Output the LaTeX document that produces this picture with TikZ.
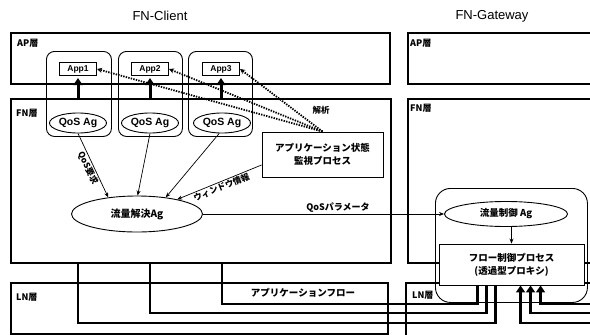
\documentclass[tikz,border=0pt]{standalone}
\usepackage{fontspec}
\setmainfont{Liberation Sans}
\newfontfamily\jp{Noto Sans CJK JP}
\usetikzlibrary{arrows.meta,shapes.geometric,calc}
\newcommand{\fsz}[1]{\fontsize{#1}{#1}\selectfont}
\begin{document}
\begin{tikzpicture}[x=1pt,y=-1pt,
  layerbox/.style={draw, line width=1.6pt, anchor=north west, inner sep=0pt},
  lyr/.style={font=\jp\bfseries\fsz{9}, anchor=west, inner sep=0pt},
  grp/.style={draw, line width=0.9pt, rounded corners=8pt, anchor=north west, inner sep=0pt, minimum height=85pt},
  appbox/.style={draw, line width=1.1pt, fill=white, minimum width=37pt, minimum height=13pt, inner sep=0pt, font=\bfseries\fsz{8.5}},
  qos/.style={draw, ellipse, line width=0.9pt, fill=white, minimum width=57pt, minimum height=20pt, inner sep=0pt, font=\bfseries\fsz{10.5}},
  uparrow/.style={line width=3pt, -{Triangle[width=9pt,length=7pt]}},
  thinline/.style={line width=0.7pt},
  arr/.style={thinline, -{Stealth[length=5pt,width=4pt]}},
  rarr/.style={thinline, {Stealth[length=5pt,width=4pt]}-},
  dotarrow/.style={line width=1.8pt, dash pattern=on 1.4pt off 1.2pt, -{Stealth[length=5pt,width=5pt]}},
  flow/.style={line width=2.8pt},
  flowarrow/.style={line width=2.8pt, -{Triangle[width=9pt,length=7pt]}},
  lab/.style={font=\jp\bfseries\fsz{8.5}, inner sep=1pt},
]
\useasboundingbox (0,0) rectangle (590,335);
\clip (0,0) rectangle (590,335);
\fill[white] (0,0) rectangle (590,335);

% titles
\node[font=\fsz{13}] (tc) at (160,16) {FN-Client};
\node[font=\fsz{13}] (tg) at (492,16) {FN-Gateway};

% layer boxes
\node[layerbox, minimum width=379pt, minimum height=51pt] (apc) at (10,32) {};
\node[layerbox, minimum width=380pt, minimum height=164pt] (fnc) at (10,98) {};
\node[layerbox, minimum width=377pt, minimum height=51pt] (lnc) at (10,282) {};
\node[layerbox, minimum width=200pt, minimum height=51pt] (apg) at (407,32) {};
\node[layerbox, minimum width=200pt, minimum height=164pt] (fng) at (407,98) {};
\node[layerbox, minimum width=200pt, minimum height=70pt] (lng) at (405,282) {};

\node[lyr] (l1) at (17,43) {AP層};
\node[lyr] (l2) at (16,113) {FN層};
\node[lyr] (l3) at (16,297) {LN層};
\node[lyr] (l4) at (410,43) {AP層};
\node[lyr] (l5) at (410,108) {FN層};
\node[lyr] (l6) at (412,295) {LN層};

% application groups
\node[grp, minimum width=65pt] (g1) at (46,51) {};
\node[grp, minimum width=64pt] (g2) at (118,51) {};
\node[grp, minimum width=64pt] (g3) at (188,51) {};

\node[appbox] (a1) at (78,69) {App1};
\node[appbox] (a2) at (150,69) {App2};
\node[appbox] (a3) at (221,69) {App3};

\node[qos] (q1) at (78,123) {QoS Ag};
\node[qos] (q2) at (150,123) {QoS Ag};
\node[qos] (q3) at (222,123) {QoS Ag};

\draw[uparrow, shorten >=2pt] (a1.south |- fnc.north) -- (a1.south);
\draw[uparrow, shorten >=2pt] (a2.south |- fnc.north) -- (a2.south);
\draw[uparrow, shorten >=2pt] (a3.south |- fnc.north) -- (a3.south);

% aggregate agent
\node[draw, ellipse, line width=0.9pt, minimum width=131pt, minimum height=36pt, inner sep=0pt, font=\jp\bfseries\fsz{10}] (agg) at (137,214) {流量解決Ag};

% monitor process
\node[draw, line width=0.9pt, fill=white, minimum width=121pt, minimum height=45pt, align=center, font=\jp\bfseries\fontsize{9.5}{13}\selectfont] (mon) at (322.5,154.5) {アプリケーション状態\\監視プロセス};

\draw[dotarrow] (mon.north) -- (a1.east);
\draw[dotarrow] (mon.north) -- (a2.east);
\draw[dotarrow] (mon.north) -- (a3.east);
\node[lab, font=\jp\bfseries\fsz{8.5}] (ana) at (321,110) {解析};

\draw[arr] (q1.south) -- (agg.150) node[lab, midway, sloped, below] {QoS要求};
\draw[arr] (q2.south) -- (agg.88);
\draw[arr] (q3.255) -- (agg.30);
\draw[rarr] (agg.20) -- (mon.west |- 0,165) node[lab, midway, sloped, below] {ウィンドウ情報};

% gateway
\node[draw, line width=0.9pt, rounded corners=15pt, anchor=north west, minimum width=152pt, minimum height=114pt, inner sep=0pt] (gwr) at (435,188) {};
\node[draw, ellipse, line width=0.9pt, fill=white, minimum width=123pt, minimum height=25pt, inner sep=0pt, font=\jp\bfseries\fsz{9.5}] (gwag) at (506,214) {流量制御 Ag};

\draw[arr] (agg.east) -- (gwag.west) node[lab, pos=0.56, above, font=\jp\bfseries\fsz{9}] {QoSパラメータ};

% flows
\node[draw, line width=0.9pt, fill=white, minimum width=145pt, minimum height=41pt, align=center, font=\jp\bfseries\fontsize{9.5}{13}\selectfont] (fb) at (511.5,264.5) {フロー制御プロセス\\(透過型プロキシ)};
\draw[arr] (fb.north |- gwag.south) -- (fb.north);

\coordinate (i1) at ($(fb.south west)+(39,0)$);
\coordinate (i2) at ($(fb.south west)+(48,0)$);
\coordinate (i3) at ($(fb.south west)+(57,0)$);
\coordinate (o1) at ($(fb.south west)+(82,0)$);
\coordinate (o2) at ($(fb.south west)+(92,0)$);
\coordinate (o3) at ($(fb.south west)+(102,0)$);
\coordinate (e1) at (600,323);
\coordinate (e2) at (600,313);
\coordinate (e3) at (600,304);

\draw[flow] (q1 |- fnc.south) |- (i3 |- 0,323) -- (i3);
\draw[flow] (q2 |- fnc.south) |- (i2 |- 0,313) -- (i2);
\draw[flow] (q3 |- fnc.south) |- (i1 |- 0,304) -- (i1);
\draw[flowarrow] (e1) -| (o1);
\draw[flowarrow] (e2) -| (o2);
\draw[flowarrow] (e3) -| (o3);

\node[lab, font=\jp\bfseries\fsz{9.5}] (afl) at (303,293) {アプリケーションフロー};
\end{tikzpicture}
\end{document}
